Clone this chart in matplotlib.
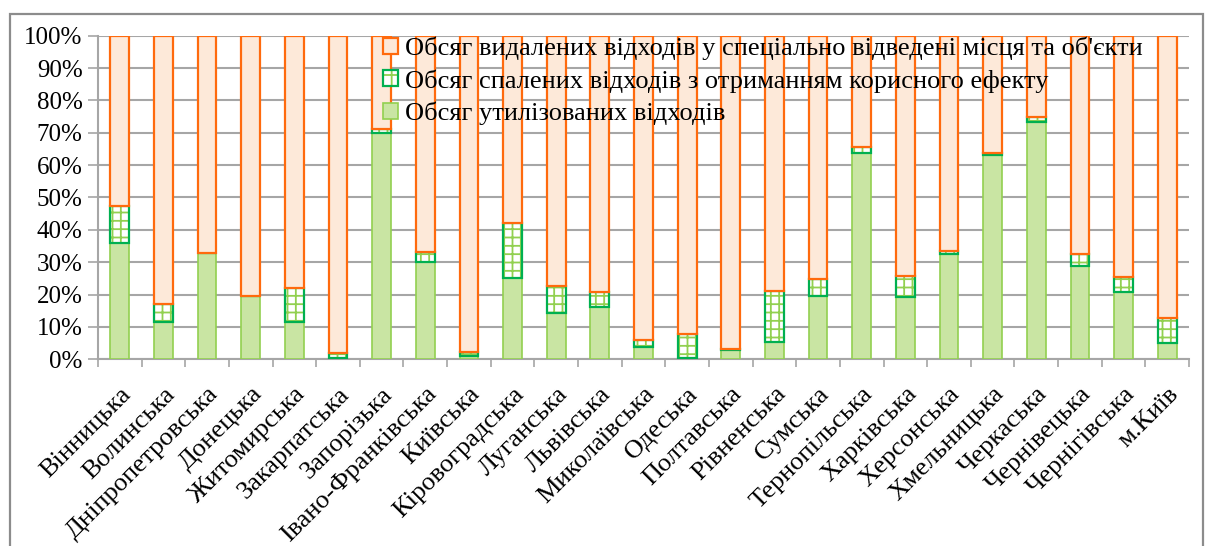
import numpy as np
import matplotlib.pyplot as plt
from matplotlib.patches import Patch, Rectangle
from matplotlib.ticker import PercentFormatter, FixedLocator
from matplotlib.transforms import ScaledTranslation

plt.rcParams['font.family'] = ['Liberation Serif', 'DejaVu Serif']
plt.rcParams['hatch.linewidth'] = 1.3

regions = ["Вінницька", "Волинська", "Дніпропетровська", "Донецька", "Житомирська",
           "Закарпатська", "Запорізька", "Івано-Франківська", "Київська", "Кіровоградська",
           "Луганська", "Львівська", "Миколаївська", "Одеська", "Полтавська", "Рівненська",
           "Сумська", "Тернопільська", "Харківська", "Херсонська", "Хмельницька", "Черкаська",
           "Чернівецька", "Чернігівська", "м.Київ"]

# shares, %
utilized = [35.8, 11.6, 32.8, 19.6, 11.4, 0.3, 70.0, 30.0, 1.0, 25.2, 14.3, 16.3, 3.7,
            0.3, 2.9, 5.4, 19.6, 63.6, 19.4, 32.4, 63.1, 73.4, 28.9, 20.7, 4.9]
burned = [11.7, 5.4, 0.2, 0.0, 10.6, 1.8, 1.2, 3.1, 1.2, 17.0, 8.3, 4.6, 2.3,
          7.5, 0.2, 15.7, 5.3, 1.9, 6.3, 1.1, 0.5, 1.6, 3.5, 4.8, 7.8]
removed = [100 - u - b for u, b in zip(utilized, burned)]

labels = ["Обсяг утилізованих відходів",
          "Обсяг спалених відходів з отриманням корисного ефекту",
          "Обсяг видалених відходів у спеціально відведені місця та об'єкти"]

c_util_face, c_util_edge = "#c9e5a3", "#92d050"
c_burn_edge = "#00b050"
c_rem_face, c_rem_edge = "#fde9d9", "#ff6a0d"

fig = plt.figure(figsize=(12.05, 5.46), dpi=100)
ax = fig.add_axes([98 / 1205, 1 - 359.3 / 546, (1189 - 98) / 1205, (359.3 - 35.7) / 546])

x = np.arange(len(regions))
w = 0.43
u = np.array(utilized)
b = np.array(burned)
r = np.array(removed)

ax.bar(x, u, w, color=c_util_face, edgecolor=c_util_edge, linewidth=1.2, zorder=3)
ax.bar(x, b, w, bottom=u, color="white", hatch="++", edgecolor=c_util_edge,
       linewidth=0, zorder=3)
ax.bar(x, b, w, bottom=u, fill=False, edgecolor=c_burn_edge, linewidth=1.6, zorder=4)
ax.bar(x, r, w, bottom=u + b, color=c_rem_face, edgecolor=c_rem_edge, linewidth=1.6,
       zorder=4)

ax.set_xlim(-0.5, len(regions) - 0.5)
ax.set_ylim(0, 100)
ax.set_yticks(np.arange(0, 101, 10))
ax.yaxis.set_major_formatter(PercentFormatter(decimals=0))
ax.yaxis.grid(True, color="#a6a6a6", linewidth=1.5, zorder=0)
ax.set_axisbelow(True)

ax.set_xticks(x)
ax.set_xticklabels(regions, rotation=45, ha="right", rotation_mode="anchor")
shift = ScaledTranslation(-5 / 100, 0, fig.dpi_scale_trans)
for lbl in ax.get_xticklabels():
    lbl.set_transform(lbl.get_transform() + shift)
ax.xaxis.set_minor_locator(FixedLocator(np.arange(-0.5, len(regions), 1)))
ax.tick_params(axis="x", which="major", length=0, pad=17, labelsize=19)
ax.tick_params(axis="x", which="minor", length=6, width=1.2, color="#a6a6a6")
ax.tick_params(axis="y", length=7, width=1.2, color="#a6a6a6", labelsize=18, pad=4)

for s in ["top", "right"]:
    ax.spines[s].set_visible(False)
for s in ["left", "bottom"]:
    ax.spines[s].set_color("#a6a6a6")
    ax.spines[s].set_linewidth(1.5)

h_util = Patch(facecolor=c_util_face, edgecolor=c_util_edge, linewidth=1.2)
h_burn = (Patch(facecolor="white", hatch="+", edgecolor=c_util_edge, linewidth=0),
          Patch(fill=False, edgecolor=c_burn_edge, linewidth=1.6))
h_rem = Patch(facecolor=c_rem_face, edgecolor=c_rem_edge, linewidth=1.6)
leg = ax.legend([h_rem, h_burn, h_util], labels[::-1], loc="upper left",
                bbox_to_anchor=(383 / 1205, 1 - 37 / 546), bbox_transform=fig.transFigure,
                frameon=False, fontsize=19, handlelength=0.55, handleheight=0.55,
                handletextpad=0.3, labelspacing=0.33, borderpad=0, borderaxespad=0)
leg.set_zorder(10)

fig.patches.append(Rectangle((9.5 / 1205, -0.05), (1203 - 9.5) / 1205, 1.05 - 14.5 / 546,
                             transform=fig.transFigure, fill=False, edgecolor="#8c8c8c",
                             linewidth=1.6))

fig.savefig("out.png", dpi=100)
